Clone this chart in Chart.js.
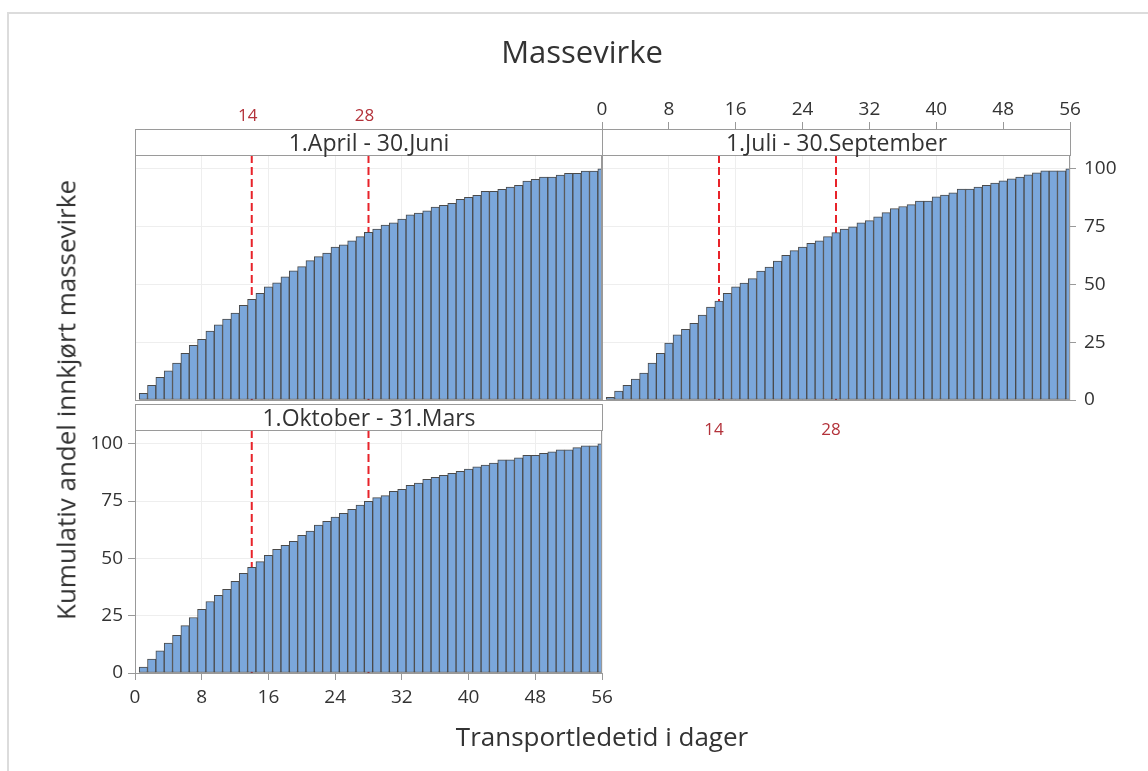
<!DOCTYPE html>
<html><head><meta charset="utf-8">
<script src="https://cdn.jsdelivr.net/npm/chart.js@4.4.1/dist/chart.umd.min.js"></script>
<style>
html,body{margin:0;padding:0;background:#fff;}
#wrap{position:relative;width:1148px;height:771px;overflow:hidden;font-family:'Open Sans',sans-serif;color:#333;}
canvas{position:absolute;left:0;top:0;}
.frame{position:absolute;left:7px;top:12px;width:1200px;height:800px;border-left:2px solid #dcdcdc;border-top:2px solid #dcdcdc;}
.txt{position:absolute;white-space:nowrap;transform:translate(-50%,-50%);line-height:1.2;color:#333;}
.strip{position:absolute;box-sizing:border-box;border:1px solid #9a9a9a;background:#fff;display:flex;align-items:center;justify-content:center;font-size:23px;color:#333;z-index:5;line-height:1;}
</style></head>
<body><div id="wrap">
<div class="frame"></div>
<canvas id="c1" width="1148" height="771"></canvas>
<canvas id="c2" width="1148" height="771"></canvas>
<canvas id="c3" width="1148" height="771"></canvas>
<div class="strip" id="s1" style="left:135px;top:129px;width:468px;height:27px;"></div>
<div class="strip" id="s2" style="left:602px;top:129px;width:469px;height:27px;"></div>
<div class="strip" id="s3" style="left:135px;top:404px;width:468px;height:27px;"></div>
<div class="txt" style="left:582px;top:52px;font-size:31px;">Massevirke</div>
<div class="txt" style="left:602px;top:737px;font-size:26px;">Transportledetid i dager</div>
<div class="txt" style="left:66px;top:400px;font-size:26px;transform:translate(-50%,-50%) rotate(-90deg);">Kumulativ andel innkjørt massevirke</div>
</div>
<script>
// ---- data ----
const days = [1,2,3,4,5,6,7,8,9,10,11,12,13,14,15,16,17,18,19,20,21,22,23,24,25,26,27,28,
              29,30,31,32,33,34,35,36,37,38,39,40,41,42,43,44,45,46,47,48,49,50,51,52,53,54,55,56];
const panelTitles = ["1.April - 30.Juni", "1.Juli - 30.September", "1.Oktober - 31.Mars"];
const aprJun = [2.9,6.4,9.8,12.6,16.0,20.2,23.7,26.3,29.8,32.5,35.0,37.6,41.0,43.6,46.2,49.0,50.7,53.3,55.9,57.7,60.3,62.0,63.6,66.2,67.1,68.9,70.7,72.5,
                74.0,75.7,76.6,78.3,80.1,80.9,81.8,83.5,84.2,85.1,86.8,87.7,88.6,90.3,90.3,91.2,92.1,92.9,94.7,95.5,96.4,96.4,97.3,98.1,98.1,99.0,99.0,100];
const julSep = [1.2,3.9,6.4,9.1,11.6,16.0,20.2,24.6,28.2,30.6,33.2,36.7,40.2,42.8,46.2,49.0,50.6,52.5,55.8,57.5,60.1,62.6,64.6,66.2,67.8,68.9,70.7,72.4,
                74.0,74.9,76.7,77.6,79.2,81.1,82.8,83.7,84.5,86.1,86.1,87.9,88.7,89.6,91.3,91.3,92.1,92.9,93.9,94.8,95.7,96.5,97.4,98.3,99.1,99.1,99.1,100];
const oktMar = [2.6,6.1,9.7,13.0,16.4,20.7,24.2,27.8,31.2,33.9,36.5,40.0,43.5,46.1,48.6,51.3,53.9,55.7,57.4,60.0,61.9,64.5,66.2,68.0,69.7,71.4,73.2,74.9,
                76.5,77.4,79.3,80.1,81.9,82.9,84.5,85.4,86.2,87.1,88.0,89.0,89.9,90.7,91.6,93.0,93.0,93.9,94.9,94.9,95.8,96.5,97.4,97.4,98.3,99.1,99.1,100];
const refDays = [14, 28];
const xTicks = [0,8,16,24,32,40,48,56];
const yTicks = [0,25,50,75,100];

// ---- styles ----
const BAR_FILL = '#7ba7db';
const BAR_EDGE = '#4a4a4a';
const GRID = '#eeeeee';
const AXIS = '#999999';
const TXT = '#333333';
const REF_LINE = '#e8232a';
const REF_TXT = '#b3323a';

document.getElementById('s1').textContent = panelTitles[0];
document.getElementById('s2').textContent = panelTitles[1];
document.getElementById('s3').textContent = panelTitles[2];

Chart.defaults.font.family = "'Open Sans', sans-serif";
Chart.defaults.color = TXT;

const refPlugin = {
  id: 'refLines',
  beforeDatasetsDraw(chart, args, opts) {
    const {ctx, chartArea: a, scales: {x}} = chart;
    ctx.save();
    ctx.beginPath(); ctx.rect(a.left, a.top, a.right - a.left, a.bottom - a.top); ctx.clip();
    ctx.strokeStyle = REF_LINE; ctx.lineWidth = 2; ctx.setLineDash([8, 4]);
    ctx.beginPath();
    refDays.forEach(d => { const px = x.getPixelForValue(d); ctx.moveTo(px, a.top); ctx.lineTo(px, a.bottom); });
    ctx.stroke();
    ctx.restore();
  },
  afterDatasetsDraw(chart, args, opts) {
    const {ctx, chartArea: a, scales: {x}} = chart;
    ctx.save();
    ctx.strokeStyle = AXIS; ctx.lineWidth = 1;
    ctx.strokeRect(a.left + 0.5, a.top + 0.5, a.right - a.left - 1, a.bottom - a.top);
    if (opts.side) {
      ctx.fillStyle = REF_TXT; ctx.font = "17px 'Open Sans', sans-serif";
      ctx.textAlign = 'center'; ctx.textBaseline = 'middle';
      const y = opts.side === 'top' ? a.top - opts.offset : a.bottom + opts.offset;
      refDays.forEach(d => ctx.fillText(String(d), x.getPixelForValue(d) + opts.dx, y));
    }
    ctx.restore();
  }
};

function setTicks(arr) { return s => { s.ticks = arr.map(v => ({value: v})); }; }

function makePanel(id, values, xs, ys, padding, ref) {
  return new Chart(document.getElementById(id), {
    type: 'bar',
    data: { datasets: [{
      data: days.map((d, i) => ({x: d, y: values[i]})),
      backgroundColor: BAR_FILL, borderColor: BAR_EDGE, borderWidth: 1,
      borderSkipped: false, barPercentage: 1, categoryPercentage: 1
    }]},
    options: {
      responsive: false, animation: false, devicePixelRatio: 1,
      layout: { padding },
      plugins: { legend: {display: false}, tooltip: {enabled: false}, refLines: ref },
      scales: {
        x: Object.assign({ type: 'linear', min: 0, max: 56, offset: false, afterBuildTicks: setTicks(xTicks), border: {display: false} }, xs),
        y: Object.assign({ type: 'linear', min: 0, max: 106, afterBuildTicks: setTicks(yTicks), border: {display: false} }, ys)
      }
    },
    plugins: [refPlugin]
  });
}

const tickFont = {size: 19};

// Panel 1: top-left, no tick labels
makePanel('c1', aprJun,
  { position: 'bottom', ticks: {display: false}, grid: {color: GRID, drawTicks: false, offset: false}, afterFit: s => { s.height = 371; } },
  { position: 'left', ticks: {display: false}, grid: {color: GRID, drawTicks: false}, afterFit: s => { s.width = 135; } },
  { left: 0, top: 155, right: 546, bottom: 0 },
  { side: 'top', offset: 39, dx: -4 });

// Panel 2: top-right, ticks on top and right
makePanel('c2', julSep,
  { position: 'top', ticks: {font: tickFont, color: TXT, padding: 1, maxRotation: 0, autoSkip: false},
    grid: {color: GRID, tickColor: AXIS, tickLength: 33, offset: false}, afterFit: s => { s.height = 155; } },
  { position: 'right', ticks: {font: tickFont, color: TXT, padding: 8, autoSkip: false},
    grid: {color: GRID, tickColor: AXIS, tickLength: 6}, afterFit: s => { s.width = 78; } },
  { left: 602, top: 0, right: 0, bottom: 371 },
  { side: 'bottom', offset: 30, dx: -5 });

// Panel 3: bottom-left, ticks on left and bottom
makePanel('c3', oktMar,
  { position: 'bottom', ticks: {font: tickFont, color: TXT, padding: 6, maxRotation: 0, autoSkip: false},
    grid: {color: GRID, tickColor: AXIS, tickLength: 7, offset: false}, afterFit: s => { s.height = 98; } },
  { position: 'left', ticks: {font: tickFont, color: TXT, padding: 5, autoSkip: false},
    grid: {color: GRID, tickColor: AXIS, tickLength: 7}, afterFit: s => { s.width = 135; } },
  { left: 0, top: 430, right: 546, bottom: 0 },
  { side: null });
</script>
</body></html>
